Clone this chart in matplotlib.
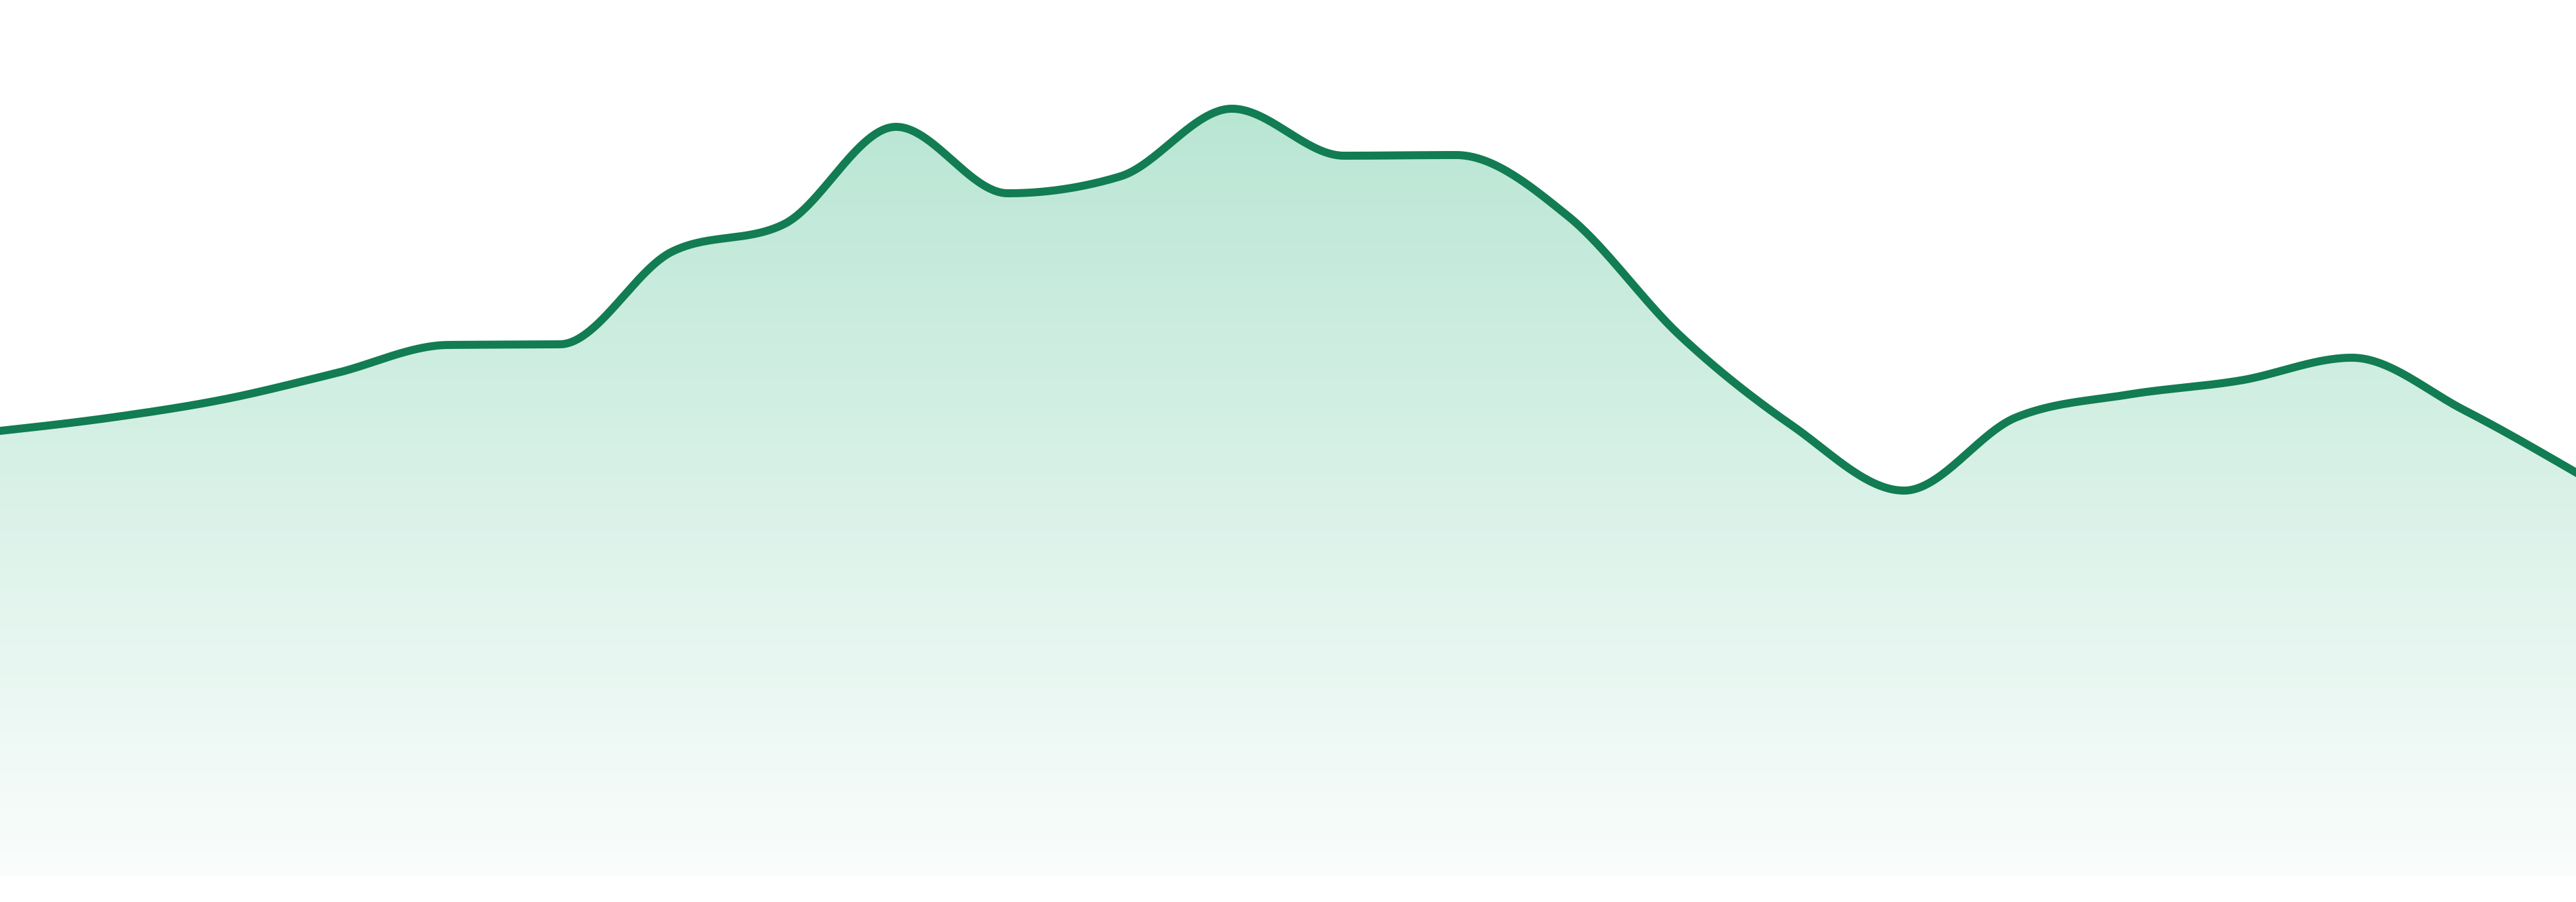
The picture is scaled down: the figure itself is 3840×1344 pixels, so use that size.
import numpy as np
import matplotlib
matplotlib.use("Agg")
import matplotlib.pyplot as plt
from matplotlib.patches import Polygon

# values, one per step
steps = list(range(24))
values = [66.3, 68.3, 71.0, 74.9, 79.1, 79.2, 93.0, 97.1, 111.6, 101.7, 104.2, 114.3,
          107.3, 107.4, 98.3, 80.5, 67.1, 57.4, 68.3, 71.7, 73.8, 77.2, 69.4, 60.1]

line_color = "#127c52"
top_color = np.array([185, 230, 212]) / 255.0
bottom_color = np.array([250, 253, 252]) / 255.0


def slope3(x0, x1, x2, y0, y1, y2):
    h0 = x1 - x0
    h1 = x2 - x1
    s0 = (y1 - y0) / h0
    s1 = (y2 - y1) / h1
    p = (s0 * h1 + s1 * h0) / (h0 + h1)
    return (np.sign(s0) + np.sign(s1)) * min(abs(s0), abs(s1), 0.5 * abs(p))


def monotone_x(xs, ys, n=60):
    # same curve as d3.curveMonotoneX
    xs = np.asarray(xs, float)
    ys = np.asarray(ys, float)
    m = len(xs)
    t = np.zeros(m)
    for i in range(1, m - 1):
        t[i] = slope3(xs[i - 1], xs[i], xs[i + 1], ys[i - 1], ys[i], ys[i + 1])
    t[0] = (3 * (ys[1] - ys[0]) / (xs[1] - xs[0]) - t[1]) / 2
    t[-1] = (3 * (ys[-1] - ys[-2]) / (xs[-1] - xs[-2]) - t[-2]) / 2
    px, py = [], []
    u = np.linspace(0, 1, n)
    for i in range(m - 1):
        dx = (xs[i + 1] - xs[i]) / 3
        p0 = (xs[i], ys[i])
        p1 = (xs[i] + dx, ys[i] + dx * t[i])
        p2 = (xs[i + 1] - dx, ys[i + 1] - dx * t[i + 1])
        p3 = (xs[i + 1], ys[i + 1])
        b0 = (1 - u) ** 3
        b1 = 3 * (1 - u) ** 2 * u
        b2 = 3 * (1 - u) * u ** 2
        b3 = u ** 3
        px.append(b0 * p0[0] + b1 * p1[0] + b2 * p2[0] + b3 * p3[0])
        py.append(b0 * p0[1] + b1 * p1[1] + b2 * p2[1] + b3 * p3[1])
    return np.concatenate(px), np.concatenate(py)


xx, yy = monotone_x(steps, values)

fig = plt.figure(figsize=(38.4, 13.44), dpi=100)
ax = fig.add_axes([0, 0, 1, 1])
ax.set_xlim(steps[0], steps[-1])
ax.set_ylim(-3.9, 130.5)
ax.axis("off")

# gradient fill under the curve
top = max(values)
k = np.linspace(0, 1, 256)[:, None]
grad = bottom_color[None, :] * (1 - k) + top_color[None, :] * k
grad = grad[:, None, :]
im = ax.imshow(grad, extent=[steps[0], steps[-1], 0, top], origin="lower",
               aspect="auto", interpolation="bilinear", zorder=1)
verts = np.column_stack([np.r_[xx, xx[-1], xx[0]], np.r_[yy, 0, 0]])
area = Polygon(verts, closed=True, facecolor="none", edgecolor="none")
ax.add_patch(area)
im.set_clip_path(area)

ax.plot(xx, yy, color=line_color, lw=8.6, solid_joinstyle="round", zorder=3)

fig.savefig("out.png", dpi=100, facecolor="white")
